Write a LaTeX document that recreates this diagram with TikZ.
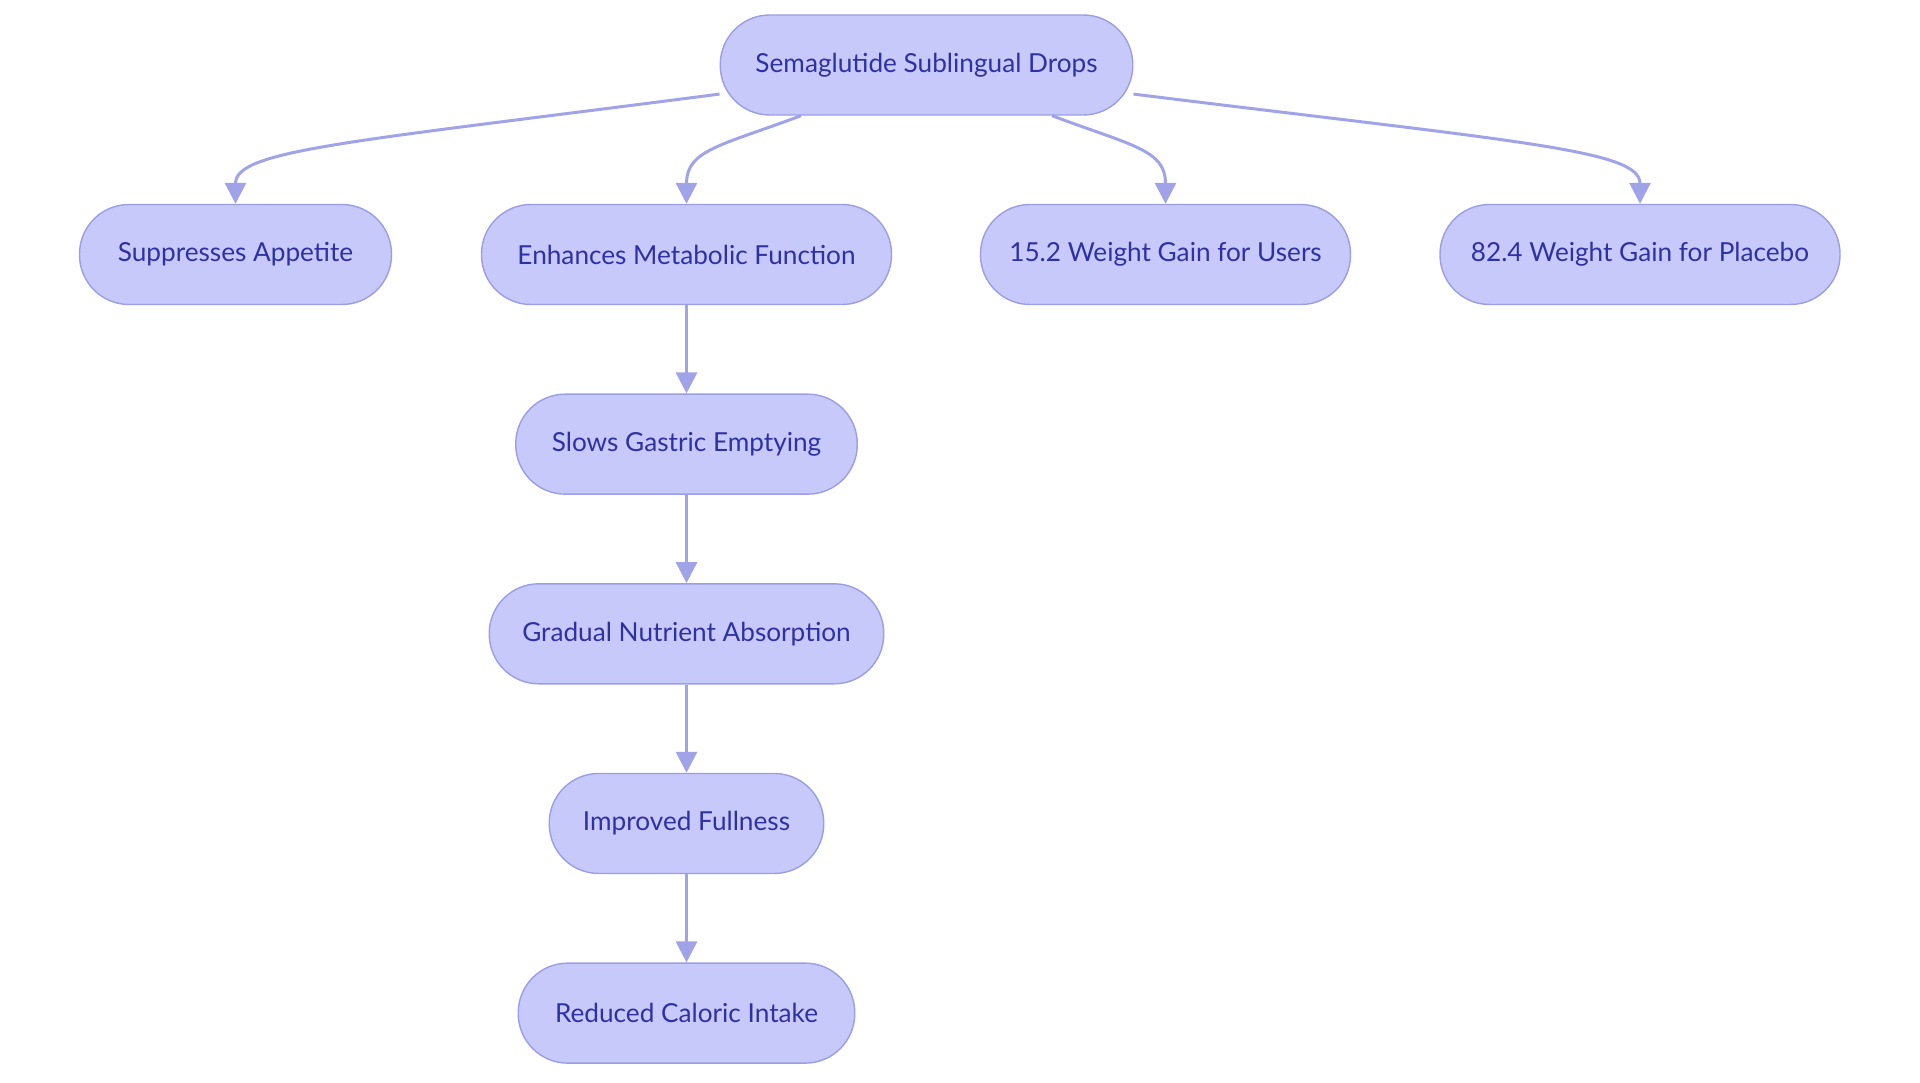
\documentclass[tikz,border=0pt]{standalone}
\usepackage{fontspec}
\setmainfont{Lato}
\usetikzlibrary{arrows.meta, calc, positioning}
\definecolor{pillfill}{RGB}{199,201,250}
\definecolor{pilldraw}{RGB}{155,158,228}
\definecolor{pilltext}{RGB}{48,48,165}
\definecolor{linkcol}{RGB}{160,163,232}
\tikzstyle{pill} = [rectangle, rounded corners=0.99cm, minimum height=2cm, text centered, fill=pillfill, draw=pilldraw, line width=0.8pt, text=pilltext, font=\fontsize{14.9}{17}\selectfont]
\tikzstyle{arrow} = [draw=linkcol, line width=1.7pt, -{Triangle[width=0.42cm,length=0.42cm]}]

\begin{document}
\begin{tikzpicture}[node distance = 1.765cm, auto]
		\path [use as bounding box, fill=white] (0,0) rectangle (38.4,-21.66);
		\node (Drops) [pill, minimum width=8.25cm] at (18.53,-1.3) {Semaglutide Sublingual Drops};
		\node (Appetite) [pill, minimum width=6.24cm] at (4.71,-5.09) {Suppresses Appetite};
		\node (Metabolic) [pill, minimum width=8.2cm] at (13.73,-5.09) {Enhances Metabolic Function};
		\node (GainUsers) [pill, minimum width=7.4cm] at (23.31,-5.09) {15.2 Weight Gain for Users};
		\node (GainPlacebo) [pill, minimum width=8cm] at (32.8,-5.09) {82.4 Weight Gain for Placebo};
		\node (Gastric) [pill, minimum width=6.83cm, below = of Metabolic] {Slows Gastric Emptying};
		\node (Absorption) [pill, minimum width=7.89cm, below = of Gastric] {Gradual Nutrient Absorption};
		\node (Fullness) [pill, minimum width=5.49cm, below = of Absorption] {Improved Fullness};
		\node (Caloric) [pill, minimum width=6.73cm, below = of Fullness] {Reduced Caloric Intake};
		\draw [arrow] (Drops.188) .. controls +(-7.4,-0.96) and +(0,1.08) .. (Appetite.north);
		\draw [arrow] (Drops.202) .. controls +(-1.6,-0.6) and +(0,1.08) .. (Metabolic.north);
		\draw [arrow] (Drops.338) .. controls +(1.6,-0.6) and +(0,1.08) .. (GainUsers.north);
		\draw [arrow] (Drops.352) .. controls +(7.74,-0.96) and +(0,1.08) .. (GainPlacebo.north);
		\draw [arrow] (Metabolic) -- (Gastric);
		\draw [arrow] (Gastric) -- (Absorption);
		\draw [arrow] (Absorption) -- (Fullness);
		\draw [arrow] (Fullness) -- (Caloric);
\end{tikzpicture}
\end{document}
